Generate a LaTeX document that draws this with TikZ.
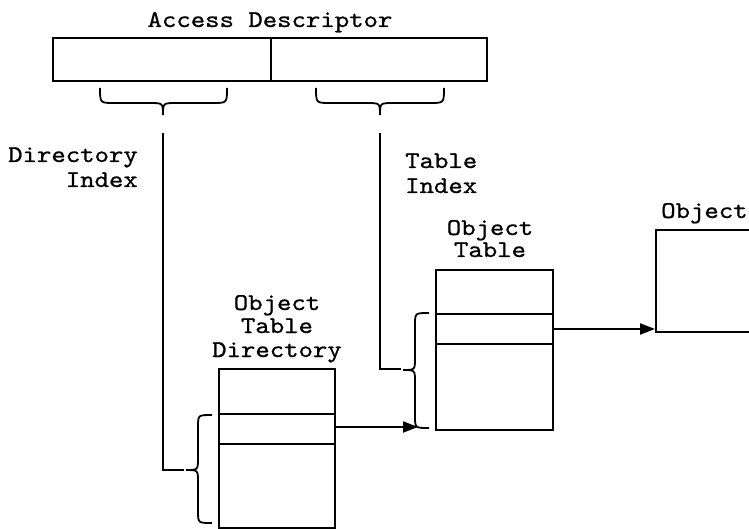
\documentclass[tikz,border=0pt]{standalone}
\usepackage{fontspec}
\newfontfamily\monofont{lmmono10-regular.otf}[FakeStretch=1.143,FakeBold=0.8]
\usetikzlibrary{arrows.meta}
\begin{document}
\begin{tikzpicture}[x=1pt,y=-1pt,
  lw/.style={line width=2pt},
  cell/.style={draw,lw,inner sep=0pt,anchor=north west},
  lbl/.style={inner sep=0pt,font=\monofont\fontsize{24}{24}\selectfont},
  brace/.style={draw,line width=1.8pt},
  conn/.style={draw,lw},
  arr/.style={draw,lw,-{Triangle[length=15pt,width=11pt]}}]
\clip (0,0) rectangle (749,529);
\fill[white] (0,0) rectangle (749,529);

% Access descriptor
\node[lbl,anchor=base] (adt) at (270,27) {Access Descriptor};
\node[cell,minimum width=218pt,minimum height=43pt] (ad1) at (52,37) {};
\node[cell,minimum width=216pt,minimum height=43pt] (ad2) at (270,37) {};

% braces under access descriptor
\coordinate (b1) at (163,115);
\coordinate (b2) at (380,115);
\draw[brace] (100,88) .. controls (100,103) .. (114,103) -- (149,103) .. controls (163,103) .. (b1)
  .. controls (163,103) .. (177,103) -- (213,103) .. controls (227,103) .. (227,88);
\draw[brace] (316,88) .. controls (316,103) .. (330,103) -- (366,103) .. controls (380,103) .. (b2)
  .. controls (380,103) .. (394,103) -- (430,103) .. controls (444,103) .. (444,88);

% labels
\node[lbl,anchor=base east] (di1) at (138,162) {Directory};
\node[lbl,anchor=base east] (di2) at (138,187) {Index};
\node[lbl,anchor=base west] (ti1) at (405,168) {Table};
\node[lbl,anchor=base west] (ti2) at (405,193) {Index};

% Object Table Directory
\node[lbl,anchor=base] (otd1) at (277,310) {Object};
\node[lbl,anchor=base] (otd2) at (277,333) {Table};
\node[lbl,anchor=base] (otd3) at (277,357) {Directory};
\node[cell,minimum width=116pt,minimum height=45pt] (odt1) at (218,368) {};
\node[cell,minimum width=116pt,minimum height=30pt] (odt2) at (218,413) {};
\node[cell,minimum width=116pt,minimum height=84pt] (odt3) at (218,443) {};

% Object Table
\node[lbl,anchor=base] (ot1l) at (490,235) {Object};
\node[lbl,anchor=base] (ot2l) at (490,257) {Table};
\node[cell,minimum width=117pt,minimum height=44pt] (ot1) at (435,269) {};
\node[cell,minimum width=117pt,minimum height=30pt] (ot2) at (435,313) {};
\node[cell,minimum width=117pt,minimum height=86pt] (ot3) at (435,343) {};

% Object
\node[lbl,anchor=base west] (objl) at (661,218) {Object};
\node[cell,minimum width=110pt,minimum height=102pt] (obj) at (655,229) {};

% vertical braces
\coordinate (b3) at (186,470);
\coordinate (b4) at (403,370);
\draw[brace] (212,415) .. controls (198,415) .. (198,427) -- (198,458) .. controls (198,470) .. (b3)
  .. controls (198,470) .. (198,482) -- (198,511) .. controls (198,523) .. (212,523);
\draw[brace] (429,313) .. controls (415,313) .. (415,325) -- (415,358) .. controls (415,370) .. (b4)
  .. controls (415,370) .. (415,382) -- (415,416) .. controls (415,428) .. (429,428);

% connectors
\coordinate (c1) at (163,133);
\coordinate (c2) at (380,133);
\coordinate (t3) at (184,470);
\coordinate (t4) at (401,369);
\draw[conn] (c1) |- (t3);
\draw[conn] (c2) |- (t4);
\coordinate (a1) at (418,427);
\draw[arr] (odt2.east |- a1) -- (a1);
\coordinate (a2) at (655,329);
\draw[arr] (ot2.east |- a2) -- (a2);
\end{tikzpicture}
\end{document}
